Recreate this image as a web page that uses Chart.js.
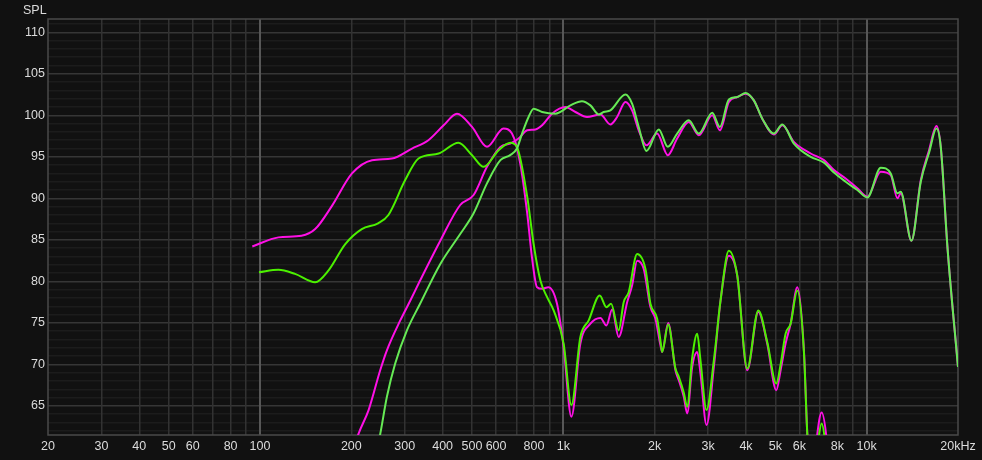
<!DOCTYPE html>
<html>
<head>
<meta charset="utf-8">
<script src="https://cdn.jsdelivr.net/npm/chart.js@4"></script>
<style>
  html, body { margin: 0; padding: 0; background: #111111; }
  #wrap { width: 982px; height: 460px; }
</style>
</head>
<body>
<div id="wrap"><canvas id="spl" width="982" height="460"></canvas></div>
<script>
// woofer (low) response, magenta trace
const magentaLowFreq = [94.3, 115, 137, 152, 172, 201, 234, 272, 317, 359, 403, 446, 500, 560, 635, 677, 721, 760, 788, 819, 851, 892, 953, 1002, 1063, 1138, 1228, 1325, 1387, 1448, 1522, 1623, 1685, 1751, 1841, 1937, 2012, 2090, 2117, 2216, 2342, 2402, 2495, 2560, 2659, 2762, 2832, 2965, 3134, 3298, 3512, 3744, 4039, 4392, 4701, 5035, 5203, 5403, 5613, 5907, 6210, 6372, 6600, 6840, 7103, 7379, 7700];
const magentaLowSpl  = [84.2, 85.3, 85.5, 86.3, 89.0, 93.0, 94.6, 94.8, 96.0, 97.0, 98.8, 100.2, 98.6, 96.2, 98.4, 97.8, 94.2, 88.2, 82.9, 79.3, 79.1, 79.3, 77.3, 72.1, 63.7, 72.5, 74.9, 75.6, 74.7, 76.6, 73.3, 77.5, 79.5, 82.5, 81.5, 76.9, 75.5, 72.3, 71.5, 75.0, 69.3, 68.1, 66.1, 64.1, 69.7, 71.5, 68.9, 62.7, 69.7, 77.7, 83.1, 80.7, 69.3, 76.3, 72.5, 66.9, 69.3, 72.5, 74.9, 79.3, 71.7, 61.6, 55, 61, 64.2, 61, 52];

// woofer (low) response, green trace
const greenLowFreq = [99.2, 115, 130.5, 152, 168, 191, 216.5, 245, 265, 301, 333, 388, 451, 500, 546, 612, 669, 703, 760, 798, 840, 884, 929, 1002, 1063, 1138, 1212, 1318, 1387, 1437, 1522, 1581, 1642, 1751, 1865, 1937, 2038, 2100, 2117, 2216, 2342, 2402, 2495, 2560, 2659, 2762, 2832, 2965, 3134, 3298, 3512, 3744, 4039, 4392, 4701, 5035, 5203, 5403, 5613, 5907, 6210, 6372, 6600, 6900, 7103, 7300, 7600];
const greenLowSpl  = [81.1, 81.4, 80.9, 79.9, 81.3, 84.5, 86.3, 87.0, 88.0, 92.2, 94.8, 95.4, 96.7, 95.2, 93.8, 95.8, 96.7, 96.2, 90.2, 84.5, 80.1, 78.1, 76.5, 72.5, 65.1, 73.3, 75.3, 78.3, 76.9, 77.3, 74.1, 77.5, 78.7, 83.3, 81.5, 77.3, 75.5, 72.3, 71.5, 74.8, 69.5, 68.5, 66.6, 64.9, 70.8, 73.7, 70.5, 64.5, 70.5, 77.7, 83.7, 80.7, 69.5, 76.5, 72.7, 67.7, 70.0, 73.7, 74.9, 78.9, 71.5, 61.6, 55, 60.5, 62.9, 60.5, 52];

// tweeter (high) response, magenta trace
const magentaHighFreq = [195, 211, 228, 249, 262, 290, 313, 337, 393, 457, 506, 560, 620, 668, 712, 760, 809, 851, 918, 1015, 1096, 1197, 1325, 1429, 1504, 1602, 1685, 1772, 1879, 2038, 2210, 2372, 2591, 2796, 3096, 3281, 3512, 3744, 3987, 4246, 4527, 4943, 5271, 5754, 6535, 7230, 7801, 8524, 9318, 10053, 11124, 12003, 12628, 12950, 14048, 15077, 16055, 16982, 17546, 18464, 20000];
const magentaHighSpl  = [57.5, 61.6, 64.5, 69.3, 71.7, 75.3, 77.7, 80.1, 84.9, 89.2, 90.4, 93.8, 96.2, 96.6, 97.2, 98.2, 98.3, 98.8, 100.2, 101.0, 100.4, 99.8, 100.1, 98.9, 99.8, 101.6, 100.6, 98.2, 96.4, 97.8, 95.2, 97.2, 99.2, 97.6, 100.0, 98.2, 101.6, 102.2, 102.6, 101.8, 99.6, 97.7, 98.8, 96.8, 95.4, 94.6, 93.4, 92.4, 91.2, 90.2, 93.2, 92.8, 90.0, 90.6, 84.9, 92.2, 95.8, 98.7, 96.2, 84.1, 69.7];

// tweeter (high) response, green trace
const greenHighFreq = [235, 249, 262, 279, 305, 337, 393, 457, 506, 560, 620, 668, 703, 731, 768, 798, 851, 941, 1055, 1152, 1228, 1310, 1358, 1429, 1602, 1685, 1772, 1879, 2063, 2210, 2372, 2591, 2796, 3096, 3281, 3512, 3744, 3987, 4246, 4527, 4943, 5271, 5754, 6535, 7230, 7801, 8524, 9318, 10053, 11124, 12003, 12628, 12950, 14048, 15077, 16055, 16982, 17546, 18464, 20000];
const greenHighSpl  = [57.5, 61.6, 66.1, 70.1, 74.1, 77.3, 82.1, 85.7, 88.2, 91.8, 94.6, 95.2, 96.0, 97.8, 99.8, 100.8, 100.4, 100.2, 101.2, 101.7, 101.2, 100.1, 100.4, 100.6, 102.5, 101.4, 98.6, 95.7, 98.3, 96.2, 97.8, 99.4, 97.8, 100.3, 98.6, 101.9, 102.2, 102.7, 101.8, 99.6, 97.8, 98.9, 96.6, 95.0, 94.3, 93.1, 92.0, 91.0, 90.1, 93.7, 93.0, 90.6, 90.8, 84.9, 92.0, 95.5, 98.4, 96.2, 84.1, 69.7];

// axis ticks
const freqGrid = [20, 30, 40, 50, 60, 70, 80, 90, 100, 200, 300, 400, 500, 600, 700, 800, 900, 1000, 2000, 3000, 4000, 5000, 6000, 7000, 8000, 9000, 10000, 20000];
const freqLabels = { 20: '20', 30: '30', 40: '40', 50: '50', 60: '60', 80: '80', 100: '100', 200: '200', 300: '300', 400: '400', 500: '500', 600: '600', 800: '800', 1000: '1k', 2000: '2k', 3000: '3k', 4000: '4k', 5000: '5k', 6000: '6k', 8000: '8k', 10000: '10k', 20000: '20kHz' };
const splLabels = [65, 70, 75, 80, 85, 90, 95, 100, 105, 110];

const pts = (f, s) => f.map((x, i) => ({ x: x, y: s[i] }));

const MAGENTA = '#ff10e6';
const GREEN_LOW = '#4cf000';
const GREEN_HIGH = '#66ea55';
const TXT = '#dcdcdc';
const FONT = { family: "'Liberation Sans', Arial, sans-serif", size: 12.5 };

const framePlugin = {
    id: 'frame',
    beforeDatasetsDraw(chart) {
        const a = chart.chartArea, c = chart.ctx;
        c.save();
        c.strokeStyle = '#4a4a4a';
        c.lineWidth = 1.5;
        c.strokeRect(a.left, a.top, a.right - a.left, a.bottom - a.top);
        c.restore();
    },
    afterDraw(chart) {
        const c = chart.ctx;
        c.save();
        c.fillStyle = TXT;
        c.font = "12.5px 'Liberation Sans', Arial, sans-serif";
        c.textBaseline = 'alphabetic';
        c.textAlign = 'left';
        c.fillText('SPL', 23, 13.5);
        c.restore();
    }
};

const lineStyle = (color) => ({
    borderColor: color,
    borderWidth: 2,
    pointRadius: 0,
    fill: false,
    cubicInterpolationMode: 'monotone',
    capBezierPoints: false,
    clip: 0
});

new Chart(document.getElementById('spl').getContext('2d'), {
    type: 'line',
    data: {
        datasets: [
            { label: 'green high', data: pts(greenHighFreq, greenHighSpl), ...lineStyle(GREEN_HIGH) },
            { label: 'green low', data: pts(greenLowFreq, greenLowSpl), ...lineStyle(GREEN_LOW) },
            { label: 'magenta high', data: pts(magentaHighFreq, magentaHighSpl), ...lineStyle(MAGENTA) },
            { label: 'magenta low', data: pts(magentaLowFreq, magentaLowSpl), ...lineStyle(MAGENTA) }
        ]
    },
    options: {
        responsive: false,
        animation: false,
        layout: { padding: { top: 19, right: 24, left: 0, bottom: 0 } },
        plugins: { legend: { display: false }, tooltip: { enabled: false } },
        scales: {
            x: {
                type: 'logarithmic',
                min: 20,
                max: 20000,
                afterBuildTicks: (s) => { s.ticks = freqGrid.map(v => ({ value: v })); },
                afterFit: (s) => { s.height = 25; },
                border: { display: false },
                grid: {
                    z: 0,
                    drawTicks: false,
                    lineWidth: (ctx) => {
                        const v = ctx.tick && ctx.tick.value;
                        return (v === 100 || v === 1000 || v === 10000) ? 2 : 1.5;
                    },
                    color: (ctx) => {
                        const v = ctx.tick && ctx.tick.value;
                        if (v === 20 || v === 20000) return 'rgba(0,0,0,0)';
                        if (v === 100 || v === 1000 || v === 10000) return '#575757';
                        return '#323232';
                    }
                },
                ticks: {
                    autoSkip: false,
                    maxRotation: 0,
                    padding: 4,
                    color: TXT,
                    font: FONT,
                    callback: (v) => freqLabels[v] || ''
                }
            },
            y: {
                min: 61.5,
                max: 111.6,
                afterBuildTicks: (s) => {
                    const t = [];
                    for (let v = 62; v <= 111; v++) t.push({ value: v });
                    s.ticks = t;
                },
                afterFit: (s) => { s.width = 48; },
                border: { display: false },
                grid: {
                    z: -1,
                    drawTicks: false,
                    lineWidth: 1.5,
                    color: (ctx) => {
                        const v = ctx.tick && ctx.tick.value;
                        return v % 5 === 0 ? '#363636' : '#1c1c1c';
                    }
                },
                ticks: {
                    autoSkip: false,
                    padding: 3,
                    color: TXT,
                    font: FONT,
                    callback: (v) => splLabels.includes(v) ? String(v) : ''
                }
            }
        }
    },
    plugins: [framePlugin]
});
</script>
</body>
</html>
